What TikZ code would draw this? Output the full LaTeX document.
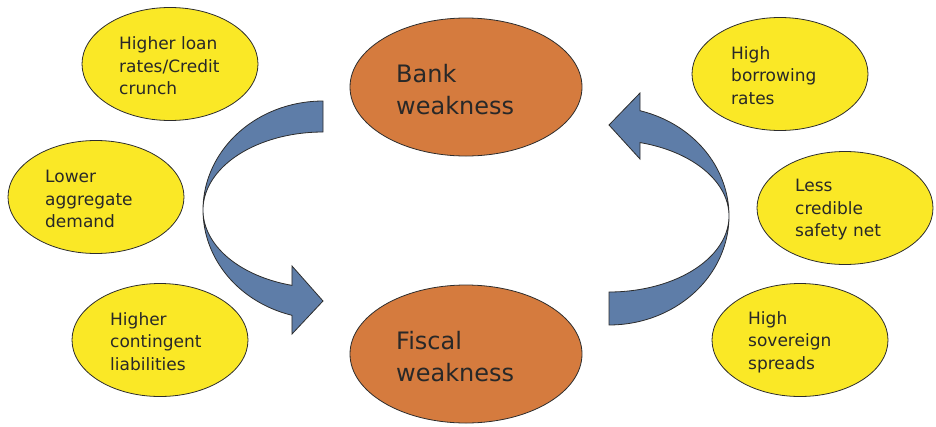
\documentclass[tikz,border=0pt]{standalone}
\usepackage{fontspec}
\setmainfont{DejaVu Sans}
\usetikzlibrary{shapes.geometric}
\definecolor{orangeF}{RGB}{213,123,62}
\definecolor{yellowF}{RGB}{250,232,38}
\definecolor{blueF}{RGB}{94,125,168}
\definecolor{lineC}{RGB}{45,45,45}
\definecolor{textC}{RGB}{40,40,40}
\tikzset{
  bigell/.style={ellipse, draw=lineC, line width=0.8pt, fill=orangeF, minimum width=232pt, minimum height=138pt, inner sep=0pt},
  smallell/.style={ellipse, draw=lineC, line width=0.8pt, fill=yellowF, minimum width=176pt, minimum height=113pt, inner sep=0pt},
  bigtxt/.style={anchor=west, align=left, inner sep=0pt, text=textC, font=\fontsize{24}{32}\selectfont},
  smalltxt/.style={anchor=west, align=left, inner sep=0pt, text=textC, font=\fontsize{17}{22.5}\selectfont},
  ribbon/.style={draw=lineC, line width=0.8pt, fill=blueF, line join=miter}
}
\begin{document}
\begin{tikzpicture}[x=1pt,y=-1pt]
\useasboundingbox (0,0) rectangle (936,426);
% central ellipses
\node[bigell] (bank) at (466,87) {};
\node[bigtxt] (banktxt) at (396,90) {Bank\\weakness};
\node[bigell] (fiscal) at (466,354) {};
\node[bigtxt] (fiscaltxt) at (396,357) {Fiscal\\weakness};
% yellow ellipses left
\node[smallell] (y1) at (170,64) {};
\node[smalltxt] (y1t) at (119,66) {Higher loan\\rates/Credit\\crunch};
\node[smallell] (y2) at (96,197) {};
\node[smalltxt] (y2t) at (45,199) {Lower\\aggregate\\demand};
\node[smallell] (y3) at (160,340) {};
\node[smalltxt] (y3t) at (110,341.5) {Higher\\contingent\\liabilities};
% yellow ellipses right
\node[smallell] (y4) at (780,74) {};
\node[smalltxt] (y4t) at (731,75.5) {High\\borrowing\\rates};
\node[smallell] (y5) at (845,208) {};
\node[smalltxt] (y5t) at (795,210) {Less\\credible\\safety net};
\node[smallell] (y6) at (800,340) {};
\node[smalltxt] (y6t) at (748,342) {High\\sovereign\\spreads};
% left curved arrow (bank -> fiscal)
\draw[ribbon] (323,132)
  -- plot[domain=-90:-255, samples=90] ({323+120*cos(\x)},{210+78*sin(\x)})
  -- (292,266) -- (323,301) -- (292,334)
  -- plot[domain=-255:-90, samples=90] ({323+120*cos(\x)},{210+109*sin(\x)})
  -- cycle;
% right curved arrow (fiscal -> bank)
\draw[ribbon] (609,292)
  -- plot[domain=90:-75, samples=90] ({609+120*cos(\x)},{216+76*sin(\x)})
  -- (640,159) -- (609,125) -- (640,93)
  -- plot[domain=-75:90, samples=90] ({609+120*cos(\x)},{216+109*sin(\x)})
  -- cycle;
\end{tikzpicture}
\end{document}
